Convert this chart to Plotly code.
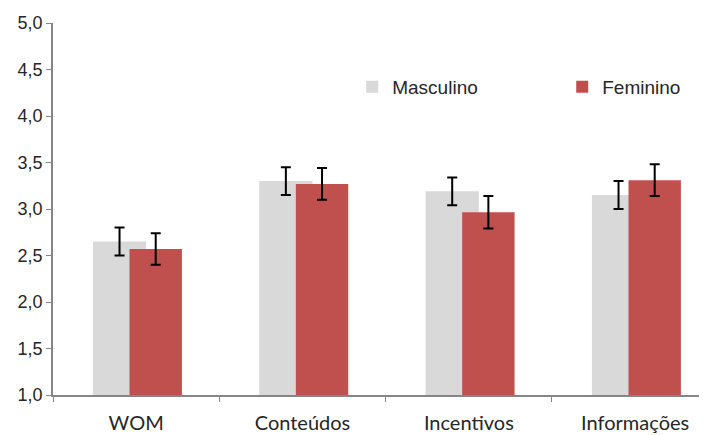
import plotly.graph_objects as go

categories = ["WOM", "Conteúdos", "Incentivos", "Informações"]
masculino = [2.65, 3.30, 3.19, 3.15]
masculino_err = [0.15, 0.15, 0.15, 0.15]
feminino = [2.57, 3.27, 2.965, 3.31]
feminino_err = [0.17, 0.17, 0.175, 0.17]
y_ticks = [1.0, 1.5, 2.0, 2.5, 3.0, 3.5, 4.0, 4.5, 5.0]

fig = go.Figure()
fig.add_trace(go.Bar(
    name="Masculino", x=categories, y=masculino,
    offset=-0.26, width=0.32,
    marker=dict(color="#d9d9d9", line=dict(width=0)),
    error_y=dict(type="data", array=masculino_err, color="black", thickness=2, width=5),
))
fig.add_trace(go.Bar(
    name="Feminino", x=categories, y=feminino,
    offset=-0.04, width=0.315,
    marker=dict(color="#c0504d", line=dict(width=0)),
    error_y=dict(type="data", array=feminino_err, color="black", thickness=2, width=5),
))

fig.update_layout(
    width=707, height=435,
    margin=dict(l=45, r=0, t=15, b=48, autoexpand=False),
    barmode="overlay",
    plot_bgcolor="white", paper_bgcolor="white",
    separators=",.",
    showlegend=True,
    legend=dict(orientation="h", x=0.452, y=0.828, xanchor="left", yanchor="middle",
                font=dict(family="Liberation Sans", size=19, color="#262626"),
                entrywidth=165, entrywidthmode="pixels", itemwidth=30,
                bgcolor="rgba(0,0,0,0)"),
    xaxis=dict(
        range=[-0.5, 3.48], showline=True, linecolor="#868686", linewidth=1.5,
        ticks="outside", tickson="boundaries", ticklen=5, tickcolor="#868686",
        tickfont=dict(family="Lato", size=20, color="#262626"),
        ticklabelstandoff=9,
        showgrid=False, automargin=False,
    ),
    yaxis=dict(
        range=[1, 5], tickvals=y_ticks, tickformat=".1f",
        showline=True, linecolor="#868686", linewidth=1.5,
        ticks="outside", ticklen=5, tickcolor="#868686",
        tickfont=dict(family="Liberation Sans", size=18, color="#262626"),
        showgrid=False, zeroline=False, automargin=False,
    ),
)

fig.write_html("out.html")
